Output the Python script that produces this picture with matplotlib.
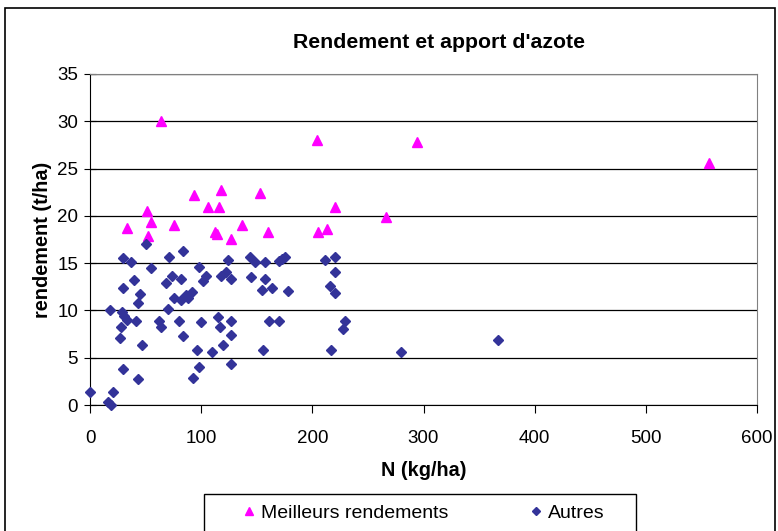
import matplotlib.pyplot as plt
from matplotlib.patches import Rectangle

plt.rcParams['font.family'] = ['Liberation Sans', 'DejaVu Sans']

# best yields (triangles)
best_n = [33, 51, 52, 55, 64, 76, 94, 106, 112, 114, 116, 118, 127, 137,
          153, 160, 204, 205, 213, 220, 266, 294, 557]
best_y = [18.7, 20.5, 17.9, 19.3, 30.0, 19.0, 22.2, 20.9, 18.3, 18.1, 20.9, 22.7, 17.6, 19.0,
          22.4, 18.3, 28.0, 18.3, 18.6, 20.9, 19.9, 27.8, 25.6]

# other plots (diamonds)
other_n = [0, 16, 19, 21, 18, 27, 28, 29, 30, 30, 30, 31, 33, 37, 40, 41, 43, 43, 45, 47,
           50, 55, 62, 64, 68, 70, 71, 74, 76, 80, 82, 82, 84, 84, 86, 88, 92, 93, 96, 98,
           98, 100, 102, 104, 110, 115, 117, 118, 120, 122, 124, 127, 127, 127, 127, 144,
           145, 148, 155, 156, 157, 157, 161, 164, 170, 170, 173, 175, 178, 211, 216, 217,
           220, 220, 220, 228, 229, 280, 367]
other_y = [1.4, 0.3, 0.0, 1.4, 10.0, 7.1, 8.2, 9.8, 3.8, 12.4, 15.5, 9.4, 9.0, 15.1, 13.2, 8.9,
           10.8, 2.7, 11.7, 6.3, 17.0, 14.5, 8.9, 8.3, 12.9, 10.1, 15.6, 13.6, 11.3, 8.9, 13.3,
           11.1, 16.3, 7.3, 11.6, 11.3, 12.0, 2.9, 5.8, 14.6, 4.0, 8.8, 13.1, 13.6, 5.6, 9.3,
           8.3, 13.6, 6.3, 14.1, 15.3, 13.3, 8.9, 7.4, 4.3, 15.7, 13.5, 15.1, 12.2, 5.8, 15.1,
           13.3, 8.9, 12.4, 15.2, 8.9, 15.4, 15.7, 12.1, 15.3, 12.6, 5.8, 15.7, 14.1, 11.8,
           8.0, 8.9, 5.6, 6.9]

W, H = 778, 531
fig = plt.figure(figsize=(W / 100, H / 100), dpi=100)
ax = fig.add_axes([90 / W, 1 - 405 / H, (757 - 90) / W, (405 - 74) / H])

# outer chart border
fig.patches.append(Rectangle((5 / W, -0.1), 770 / W, 1.1 - 8 / H, transform=fig.transFigure,
                             fill=False, edgecolor='black', lw=1.2))

ax.plot(best_n, best_y, linestyle='none', marker='^', color='#FF00FF', markersize=7.5,
        label='Meilleurs rendements', clip_on=False, zorder=3)
ax.plot(other_n, other_y, linestyle='none', marker='D', color='#333399', markersize=4.6,
        label='Autres', clip_on=False, zorder=3)

ax.set_xlim(0, 600)
ax.set_ylim(0, 35)
ax.set_xticks(range(0, 601, 100))
ax.set_yticks(range(0, 36, 5))
ax.yaxis.grid(True, color='black', lw=0.9)
ax.set_axisbelow(True)
for s in ['top', 'right']:
    ax.spines[s].set_color('#808080')
for s in ['left', 'bottom']:
    ax.spines[s].set_color('black')
ax.tick_params(axis='y', direction='inout', length=9, labelsize=13.5, pad=4)
ax.tick_params(axis='x', direction='out', length=6, labelsize=13.5, pad=12)

ax.set_xlabel('N (kg/ha)', fontsize=14.3, fontweight='bold', labelpad=10)
ax.set_ylabel('rendement (t/ha)', fontsize=14.3, fontweight='bold', labelpad=4)
fig.text(439 / W, 1 - 42 / H, "Rendement et apport d'azote", ha='center', va='center',
         fontsize=15.3, fontweight='bold')

# legend box
fig.patches.append(Rectangle((204 / W, -0.1), (636 - 204) / W, 0.1 + 1 - 494 / H,
                             transform=fig.transFigure, fill=False, edgecolor='black', lw=1))
fig.legend(loc='center', bbox_to_anchor=(422 / W, 1 - 513 / H), ncol=2, frameon=False,
           fontsize=14, handletextpad=0.1, columnspacing=4.0, handlelength=1.0,
           markerscale=0.8)

fig.savefig('out.png', dpi=100)
